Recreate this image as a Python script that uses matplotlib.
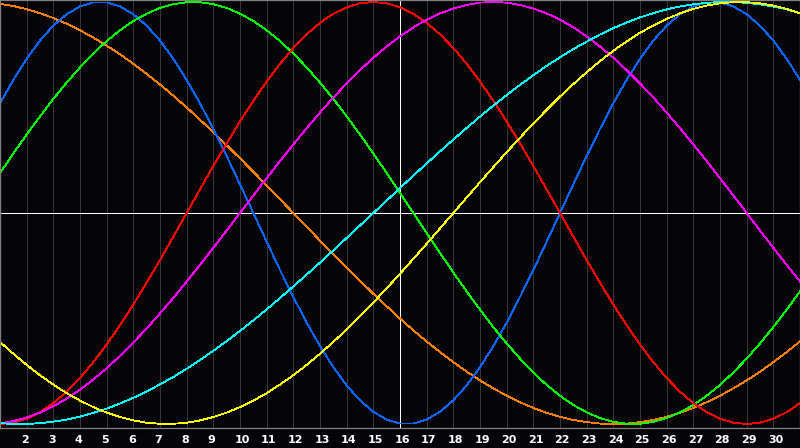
import matplotlib
matplotlib.use("Agg")
import matplotlib.pyplot as plt

# calendar days (day 1 at the left edge, day 31 at the right edge)
days = list(range(1, 32))
day_labels = [str(d) for d in range(2, 31)]
today = 16
# curve values are read every half day
t = [d / 2 for d in range(2, 63)]

# cycle values (-1 .. 1), one every half day
physical = [0.520, 0.631, 0.731, 0.817, 0.888, 0.942, 0.979, 0.998, 0.998, 0.979,
            0.942, 0.888, 0.817, 0.731, 0.631, 0.520, 0.398, 0.270, 0.136, 0.000,
            -0.136, -0.270, -0.398, -0.520, -0.631, -0.731, -0.817, -0.888, -0.942, -0.979,
            -0.998, -0.998, -0.979, -0.942, -0.888, -0.817, -0.731, -0.631, -0.520, -0.398,
            -0.270, -0.136, 0.000, 0.136, 0.270, 0.398, 0.520, 0.631, 0.731, 0.817,
            0.888, 0.942, 0.979, 0.998, 0.998, 0.979, 0.942, 0.888, 0.817, 0.731,
            0.631]
emotional = [-1.000, -0.994, -0.975, -0.944, -0.901, -0.847, -0.782, -0.707, -0.623, -0.532,
             -0.434, -0.330, -0.223, -0.112, 0.000, 0.112, 0.223, 0.330, 0.434, 0.532,
             0.623, 0.707, 0.782, 0.847, 0.901, 0.944, 0.975, 0.994, 1.000, 0.994,
             0.975, 0.944, 0.901, 0.847, 0.782, 0.707, 0.623, 0.532, 0.434, 0.330,
             0.223, 0.112, 0.000, -0.112, -0.223, -0.330, -0.434, -0.532, -0.623, -0.707,
             -0.782, -0.847, -0.901, -0.944, -0.975, -0.994, -1.000, -0.994, -0.975, -0.944,
             -0.901]
intellectual = [0.189, 0.282, 0.372, 0.458, 0.541, 0.618, 0.690, 0.756, 0.815, 0.866,
                0.910, 0.945, 0.972, 0.990, 0.999, 0.999, 0.990, 0.972, 0.945, 0.910,
                0.866, 0.815, 0.756, 0.690, 0.618, 0.541, 0.458, 0.372, 0.282, 0.189,
                0.095, 0.000, -0.095, -0.189, -0.282, -0.372, -0.458, -0.541, -0.618, -0.690,
                -0.756, -0.815, -0.866, -0.910, -0.945, -0.972, -0.990, -0.999, -0.999, -0.990,
                -0.972, -0.945, -0.910, -0.866, -0.815, -0.756, -0.690, -0.618, -0.541, -0.458,
                -0.372]
intuitive = [-0.997, -0.986, -0.969, -0.946, -0.916, -0.880, -0.837, -0.789, -0.736, -0.677,
             -0.614, -0.547, -0.476, -0.402, -0.325, -0.246, -0.165, -0.083, 0.000, 0.083,
             0.165, 0.246, 0.325, 0.402, 0.476, 0.547, 0.614, 0.677, 0.736, 0.789,
             0.837, 0.880, 0.916, 0.946, 0.969, 0.986, 0.997, 1.000, 0.997, 0.986,
             0.969, 0.946, 0.916, 0.880, 0.837, 0.789, 0.736, 0.677, 0.614, 0.547,
             0.476, 0.402, 0.325, 0.246, 0.165, 0.083, 0.000, -0.083, -0.165, -0.246,
             -0.325]
aesthetic = [-0.611, -0.667, -0.720, -0.769, -0.813, -0.854, -0.889, -0.920, -0.946, -0.967,
             -0.983, -0.994, -0.999, -0.999, -0.994, -0.983, -0.967, -0.946, -0.920, -0.889,
             -0.854, -0.813, -0.769, -0.720, -0.667, -0.611, -0.552, -0.489, -0.424, -0.357,
             -0.288, -0.217, -0.146, -0.073, 0.000, 0.073, 0.146, 0.217, 0.288, 0.357,
             0.424, 0.489, 0.552, 0.611, 0.667, 0.720, 0.769, 0.813, 0.854, 0.889,
             0.920, 0.946, 0.967, 0.983, 0.994, 0.999, 0.999, 0.994, 0.983, 0.967,
             0.946]
awareness = [0.991, 0.981, 0.966, 0.947, 0.924, 0.897, 0.866, 0.831, 0.793, 0.752,
             0.707, 0.659, 0.609, 0.556, 0.500, 0.442, 0.383, 0.321, 0.259, 0.195,
             0.131, 0.065, 0.000, -0.065, -0.131, -0.195, -0.259, -0.321, -0.383, -0.442,
             -0.500, -0.556, -0.609, -0.659, -0.707, -0.752, -0.793, -0.831, -0.866, -0.897,
             -0.924, -0.947, -0.966, -0.981, -0.991, -0.998, -1.000, -0.998, -0.991, -0.981,
             -0.966, -0.947, -0.924, -0.897, -0.866, -0.831, -0.793, -0.752, -0.707, -0.659,
             -0.609]
spiritual = [-0.996, -1.000, -1.000, -0.996, -0.989, -0.979, -0.965, -0.947, -0.927, -0.903,
             -0.876, -0.846, -0.812, -0.777, -0.738, -0.697, -0.653, -0.607, -0.559, -0.509,
             -0.457, -0.403, -0.348, -0.292, -0.235, -0.177, -0.118, -0.059, 0.000, 0.059,
             0.118, 0.177, 0.235, 0.292, 0.348, 0.403, 0.457, 0.509, 0.559, 0.607,
             0.653, 0.697, 0.738, 0.777, 0.812, 0.846, 0.876, 0.903, 0.927, 0.947,
             0.965, 0.979, 0.989, 0.996, 1.000, 1.000, 0.996, 0.989, 0.979, 0.965,
             0.947]

series = [awareness, physical, intellectual, emotional, intuitive, spiritual, aesthetic]
colors = ["#ff8000", "#0a64ff", "#00ff00", "#ff0000", "#ff00ff", "#00ffff", "#ffff00"]

bg = "#050508"
fig = plt.figure(figsize=(8, 4.48), dpi=100, facecolor=bg)
ax = fig.add_axes([0, 20 / 448, 1, 428 / 448], facecolor=bg)

ax.set_xlim(days[0], days[-1])
ax.set_ylim((213 - 428) / 211, 213 / 211)

ax.set_xticks(days)
ax.set_yticks([])
ax.tick_params(length=0, labelbottom=False)
ax.grid(axis="x", color="#363636", linewidth=0.72)
ax.set_axisbelow(True)
for s in ax.spines.values():
    s.set_color("#808080")
    s.set_linewidth(0.9)

ax.axhline(0, color="white", linewidth=0.72, zorder=1)
ax.axvline(today, color="white", linewidth=0.72, zorder=1)

for vals, c in zip(series, colors):
    ax.plot(t, vals, color=c, linewidth=0.6, antialiased=False, zorder=2)

for d, lab in zip(days[1:-1], day_labels):
    ax.annotate(lab, xy=(d, 0), xycoords=ax.get_xaxis_transform(),
                xytext=(-5.5, -14.7), textcoords="offset pixels",
                ha="left", va="baseline", color="white", fontsize=8,
                fontweight="bold", annotation_clip=False)

fig.savefig("out.png", dpi=100, facecolor=bg)
